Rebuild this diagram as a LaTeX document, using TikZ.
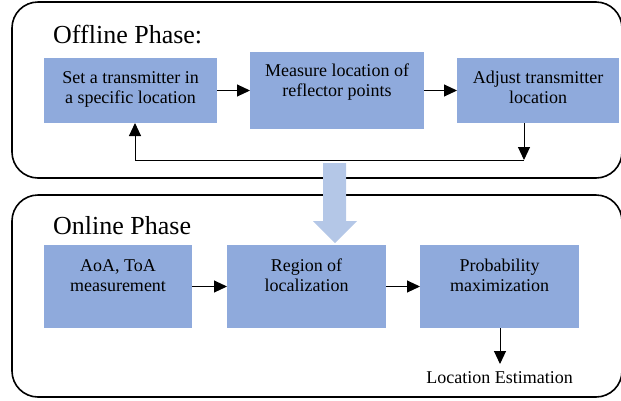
\documentclass[tikz,border=0pt]{standalone}
\usepackage{fontspec}
\setmainfont{Liberation Serif}
\usetikzlibrary{arrows.meta}
\definecolor{boxblue}{HTML}{8FAADC}
\definecolor{arrblue}{HTML}{B4C7E7}
\begin{document}
\begin{tikzpicture}[x=1pt,y=-1pt,
  phase/.style={draw=black, line width=1.6pt, rounded corners=26pt},
  stepbox/.style={fill=boxblue, draw=none, inner sep=0pt, outer sep=0pt},
  boxtext/.style={font=\fontsize{18}{20}\selectfont, align=center, anchor=north, inner sep=0pt},
  title/.style={font=\fontsize{26}{30}\selectfont, anchor=base west, inner sep=0pt},
  conn/.style={-{Triangle[length=13pt,width=12pt]}, line width=1pt}]
\useasboundingbox (0,0) rectangle (621,400);
% phase frames
\draw[phase] (12,2) rectangle (622,178);
\draw[phase] (12,195) rectangle (622,397);
\node[title] (offt) at (53,43) {Offline Phase:};
\node[title] (onlt) at (53,234) {Online Phase};
% offline boxes
\node[stepbox, minimum width=173pt, minimum height=65pt] (a) at (130.5,90.5) {};
\node[stepbox, minimum width=174pt, minimum height=77pt] (b) at (337,90.5) {};
\node[stepbox, minimum width=162pt, minimum height=65pt] (c) at (538,90.5) {};
\node[boxtext] (at) at ([yshift=-13pt]a.north) {Set a transmitter in\\a specific location};
\node[boxtext] (bt) at ([yshift=-12pt]b.north) {Measure location of\\reflector points};
\node[boxtext] (ct) at ([yshift=-13pt]c.north) {Adjust transmitter\\location};
\draw[conn] (a.east) -- (b.west);
\draw[conn] (b.east) -- (c.west);
\coordinate (fb) at (524,160);
\draw[conn] (c.south -| fb) -- (fb);
\draw[conn] (fb) -- (fb -| 135,0) -- (a.south -| 135,0);
% online boxes
\node[stepbox, minimum width=148pt, minimum height=83pt] (d) at (118,286.5) {};
\node[stepbox, minimum width=159pt, minimum height=83pt] (e) at (306.5,286.5) {};
\node[stepbox, minimum width=159pt, minimum height=83pt] (f) at (499.5,286.5) {};
\node[boxtext] (dt) at ([yshift=-14pt]d.north) {AoA, ToA\\measurement};
\node[boxtext] (et) at ([yshift=-14pt]e.north) {Region of\\localization};
\node[boxtext] (ft) at ([yshift=-14pt]f.north) {Probability\\maximization};
\draw[conn] (d.east) -- (e.west);
\draw[conn] (e.east) -- (f.west);
\node[font=\fontsize{18}{20}\selectfont, inner sep=0pt] (loc) at (499.5,378) {Location Estimation};
\coordinate (fd) at (500,364);
\draw[conn] (f.south -| fd) -- (fd);
% big transition arrow
\fill[arrblue] (323,163) -- (346,163) -- (346,221) -- (357,221) -- (335,243) -- (313,221) -- (323,221) -- cycle;
\end{tikzpicture}
\end{document}
